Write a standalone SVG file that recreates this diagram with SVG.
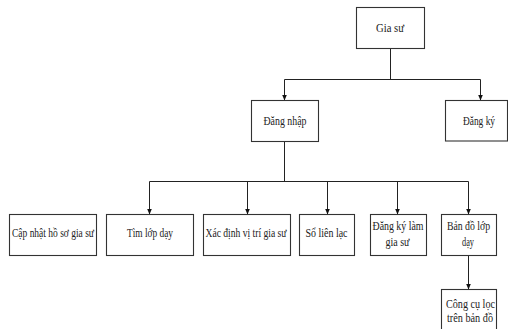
<svg xmlns="http://www.w3.org/2000/svg" width="508" height="329" viewBox="0 0 508 329">
<defs>
<marker id="ah" markerWidth="6" markerHeight="7" refX="5.5" refY="3" orient="auto" markerUnits="userSpaceOnUse">
<path d="M0,0.5 L6,3 L0,5.5 z" fill="#111"/>
</marker>
</defs>
<style>
.box{fill:#fff;stroke:#333;stroke-width:1.1}
.t{font-family:"Liberation Serif","Times New Roman",serif;font-size:12px;fill:#222;text-anchor:middle}
.c{fill:none;stroke:#222;stroke-width:1}
</style>
<rect width="508" height="329" fill="#fff"/>
<g id="connectors">
<path class="c" d="M390.5,48 V79.5 M284.5,79.5 H480.5"/>
<path class="c" d="M284.5,79.5 V100" marker-end="url(#ah)"/>
<path class="c" d="M480.5,79.5 V100" marker-end="url(#ah)"/>
<path class="c" d="M284.5,142 V181.5 M149.5,181.5 H468.5"/>
<path class="c" d="M149.5,181.5 V214" marker-end="url(#ah)"/>
<path class="c" d="M247.5,181.5 V214" marker-end="url(#ah)"/>
<path class="c" d="M327.5,181.5 V214" marker-end="url(#ah)"/>
<path class="c" d="M397.5,181.5 V214" marker-end="url(#ah)"/>
<path class="c" d="M468.5,181.5 V214" marker-end="url(#ah)"/>
<path class="c" d="M468.5,256 V289" marker-end="url(#ah)"/>
</g>
<g id="gia-su">
<rect class="box" x="356.5" y="7.5" width="68" height="41"/>
<text class="t" x="390" y="31.5" textLength="28" lengthAdjust="spacingAndGlyphs">Gia sư</text>
</g>
<g id="dang-nhap">
<rect class="box" x="251.5" y="100.5" width="67" height="41"/>
<text class="t" x="285" y="125" textLength="43" lengthAdjust="spacingAndGlyphs">Đăng nhập</text>
</g>
<g id="dang-ky">
<rect class="box" x="445.5" y="100.5" width="62" height="40.5"/>
<text class="t" x="479" y="125" textLength="32" lengthAdjust="spacingAndGlyphs">Đăng ký</text>
</g>
<g id="cap-nhat">
<rect class="box" x="9.5" y="214.5" width="87" height="41"/>
<text class="t" x="53" y="236.5" textLength="82" lengthAdjust="spacingAndGlyphs">Cập nhật hồ sơ gia sư</text>
</g>
<g id="tim-lop">
<rect class="box" x="106.5" y="214.5" width="87" height="41"/>
<text class="t" x="150" y="236.5" textLength="46" lengthAdjust="spacingAndGlyphs">Tìm lớp dạy</text>
</g>
<g id="xac-dinh">
<rect class="box" x="203.5" y="214.5" width="87" height="41"/>
<text class="t" x="246" y="236.5" textLength="81" lengthAdjust="spacingAndGlyphs">Xác định vị trí gia sư</text>
</g>
<g id="so-lien-lac">
<rect class="box" x="299.5" y="214.5" width="55" height="41"/>
<text class="t" x="326.5" y="236.5" textLength="42" lengthAdjust="spacingAndGlyphs">Sổ liên lạc</text>
</g>
<g id="dang-ky-lam">
<rect class="box" x="370.5" y="214.5" width="56" height="41"/>
<text class="t" x="398" y="229.5" textLength="51" lengthAdjust="spacingAndGlyphs">Đăng ký làm</text>
<text class="t" x="397.5" y="245.5" textLength="24" lengthAdjust="spacingAndGlyphs">gia sư</text>
</g>
<g id="ban-do">
<rect class="box" x="441.5" y="214.5" width="55" height="41"/>
<text class="t" x="468.5" y="229.5" textLength="43" lengthAdjust="spacingAndGlyphs">Bản đồ lớp</text>
<text class="t" x="468" y="245.5" textLength="12" lengthAdjust="spacingAndGlyphs">dạy</text>
</g>
<g id="cong-cu">
<rect class="box" x="441.5" y="289.5" width="55" height="45"/>
<text class="t" x="470.5" y="307.5" textLength="49" lengthAdjust="spacingAndGlyphs">Công cụ lọc</text>
<text class="t" x="470" y="322" textLength="46" lengthAdjust="spacingAndGlyphs">trên bản đồ</text>
</g>
</svg>
